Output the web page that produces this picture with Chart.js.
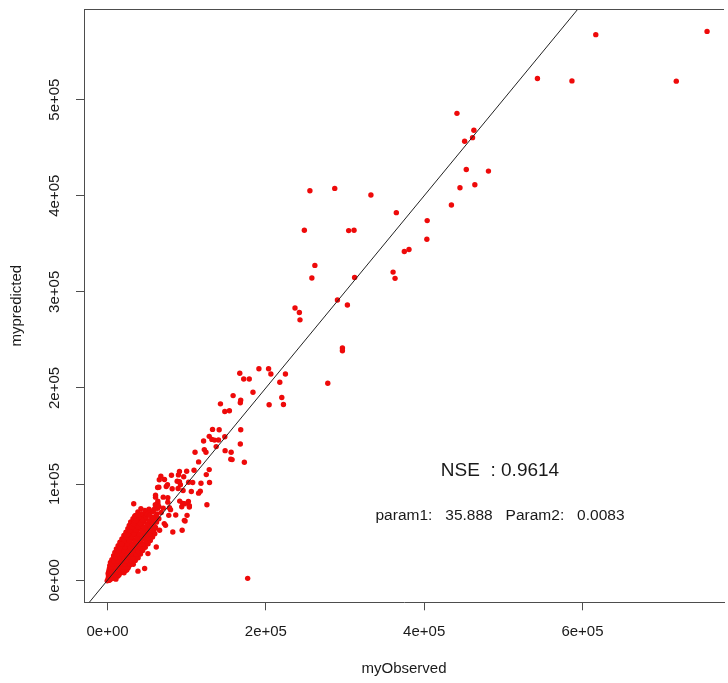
<!DOCTYPE html>
<html>
<head>
<meta charset="utf-8">
<script src="https://cdn.jsdelivr.net/npm/chart.js@4.4.1/dist/chart.umd.min.js"></script>
<style>
  html, body { margin: 0; padding: 0; background: #fff; overflow: hidden; }
  canvas { display: block; }
</style>
</head>
<body>
<canvas id="chart" width="728" height="683"></canvas>
<script>
// axis setup (R base plot look)
const xTicks = [0, 200000, 400000, 600000];
const xTickLabels = ["0e+00", "2e+05", "4e+05", "6e+05"];
const yTicks = [0, 100000, 200000, 300000, 400000, 500000];
const yTickLabels = ["0e+00", "1e+05", "2e+05", "3e+05", "4e+05", "5e+05"];
const xRange = [-29800, 778800];
const yRange = [-23100, 594300];
const refLine = [-60000, 800000];

const xTitle = "myObserved";
const yTitle = "mypredicted";
const nseLabel = "NSE  : 0.9614";
const paramLabel = "param1:   35.888   Param2:   0.0083";
const noteX = 495800;
const nseY = 113400;
const paramY = 67000;

const coreCluster = [
  [-500, -800], [1500, -300],
  [500, 1200], [3200, 400], [6800, 1800], [9500, 2600],
  [1100, 4200], [4600, 3600], [8700, 4800], [12800, 3900],
  [700, 6900], [4300, 6100], [8200, 7300], [11900, 6500], [15600, 7100],
  [1500, 9200], [5800, 9800], [10300, 8700], [14400, 9500], [18800, 8900], [22600, 9900],
  [2200, 11800], [6900, 12400], [11800, 11200], [17300, 12100], [21600, 11500], [25800, 12700],
  [2700, 14900], [7700, 15300], [13200, 14100], [18400, 15200], [23700, 14400], [28200, 15600],
  [3600, 18300], [9100, 17600], [14700, 18800], [20200, 17900], [25300, 18600], [30700, 17800],
  [5400, 21200], [11200, 22100], [16400, 21000], [22300, 22400], [27600, 21300], [33200, 22000],
  [7600, 25400], [13100, 24600], [19200, 25800], [24800, 24300], [31200, 25500], [36800, 24700],
  [9200, 28900], [15200, 28100], [21100, 29300], [27300, 28400], [33100, 29000], [39600, 28200],
  [11100, 32400], [17200, 31600], [23300, 32800], [29100, 31500], [35300, 32300], [42200, 31400],
  [13300, 35900], [19100, 35100], [25700, 36200], [32200, 35300], [38600, 36000], [45800, 35000],
  [15600, 39400], [22200, 38600], [28400, 39800], [35200, 38700], [42100, 39300], [49200, 38500],
  [18100, 42900], [24700, 42100], [31300, 43200], [38100, 42300], [45200, 43100], [52300, 42200],
  [20600, 46400], [27100, 45700], [34200, 46800], [41200, 45800], [48100, 46500], [54800, 45600],
  [23200, 49900], [30200, 49100], [37100, 50200], [44200, 49300], [51100, 50000], [57300, 49200],
  [25600, 53400], [32700, 52600], [40200, 53700], [47100, 52800], [54200, 53300], [58800, 52500],
  [27300, 56900], [35200, 56100], [43100, 57200], [50700, 56300], [57800, 56800],
  [29200, 60400], [37600, 59700], [46200, 60800], [54100, 59800], [61800, 60300],
  [32100, 63900], [40300, 63100], [48200, 64200], [56300, 63400], [64800, 63900],
  [35200, 67400], [44100, 66800], [52300, 67700], [61200, 66900],
  [38300, 70900], [48200, 70200], [57100, 71300], [67800, 70400],
  [42100, 74400], [52300, 73800], [63200, 74700]
];

const coreFill = [
  [2000, 2800], [5800, 2200], [10500, 1000],
  [2800, 5300], [6600, 5000], [10600, 5700], [14300, 5200],
  [3500, 7900], [7100, 8300], [12500, 8000], [16800, 8200], [20800, 7600],
  [4300, 10600], [9000, 10800], [14600, 10400], [19500, 10900], [24200, 10500],
  [5000, 13300], [10100, 13600], [15700, 13000], [20900, 13700], [26300, 13900],
  [6200, 16700], [11500, 16400], [16800, 17000], [22400, 16600], [27800, 17000], [32500, 16400],
  [8000, 19900], [13400, 20200], [18800, 19700], [24200, 20100], [29900, 19800], [35000, 20300],
  [10100, 23400], [15500, 23600], [21100, 23100], [27100, 23800], [32600, 23500], [38600, 23200],
  [12100, 26900], [18200, 27200], [24100, 26700], [30200, 27000], [36300, 26800], [41600, 27100],
  [14100, 30500], [20300, 30700], [26400, 30300], [32300, 30900], [38800, 30400], [44400, 30800],
  [16300, 33900], [22400, 34300], [28600, 33800], [35100, 34100], [41600, 33700], [47600, 34200],
  [18600, 37400], [25100, 37800], [31600, 37300], [38400, 37600], [45400, 37200], [51200, 37700],
  [21100, 40900], [27700, 41300], [34600, 40800], [41300, 41100], [48400, 40700], [54000, 41200],
  [23600, 44500], [30400, 44800], [37500, 44200], [44600, 44700], [51600, 44300], [56800, 44800],
  [26200, 48000], [33300, 48300], [40500, 47700], [47600, 48200], [54400, 47800], [59600, 48300],
  [28500, 51500], [35700, 51800], [43300, 51200], [50600, 51700], [57600, 51300],
  [30600, 55000], [38600, 55300], [46600, 54800], [54300, 55200], [60600, 54700],
  [33000, 58600], [41400, 58900], [49800, 58300], [58000, 58800],
  [35900, 62100], [44200, 62400], [52600, 61900], [60700, 62300],
  [39400, 65600], [48400, 65900], [57000, 65400],
  [42600, 69100], [52600, 69400], [62400, 68900],
  [47200, 72600], [58200, 72900]
];

const lowerScatter = [
  [33000, 79500], [17600, 37300], [23900, 46600], [34300, 66600], [38400, 67700],
  [50200, 68400], [53100, 67400], [59800, 74600], [63500, 80100], [60600, 86300],
  [70300, 74900], [71600, 58800], [77300, 67400], [79500, 73300], [86100, 67700],
  [82400, 50100], [94200, 51800], [97900, 61500], [61500, 34500], [51000, 27600],
  [46800, 12100], [38400, 9300], [94900, 79800], [103300, 77400], [100400, 67400],
  [97000, 62200], [73200, 57000], [65700, 51800], [64800, 96700], [74100, 97400],
  [92000, 99200], [177000, 1800]
];

const midScatter = [
  [167000, 215200], [191200, 220000], [203400, 220000], [206300, 214500], [172000, 209300],
  [179000, 209300], [224700, 214500], [217600, 205900], [278200, 204900], [183700, 195500],
  [158600, 192000], [168200, 187300], [167700, 184500], [220100, 190000], [222200, 182700],
  [204100, 182400], [142600, 183400], [148100, 175400], [153900, 176200], [132600, 156800],
  [141000, 156500], [168200, 156500], [128400, 149600], [131800, 146400], [135100, 145700],
  [121300, 144800], [148100, 149200], [140100, 145800], [122200, 135800], [124300, 133000],
  [167700, 141700], [110500, 133000], [137200, 138900], [148500, 134700], [156100, 133000],
  [157300, 125400], [155700, 125700], [172800, 122600], [115000, 123000], [109200, 114300],
  [128400, 115000], [124700, 109800], [128800, 101600], [99900, 113300], [118000, 100800],
  [90800, 113000], [89500, 109500], [80700, 109100], [67300, 108100], [71900, 104700],
  [65300, 104400], [96200, 107500], [87900, 102900], [90800, 102300], [75700, 99200],
  [81600, 95000], [102400, 101900], [107500, 101600], [105800, 92200], [95400, 93300],
  [117100, 92500], [115000, 90500], [63200, 96400], [89100, 95300], [60600, 88400],
  [70300, 86300], [76100, 85700], [63500, 82200], [60300, 78400], [64800, 76700],
  [76100, 81100], [78200, 75300], [91100, 82200], [102100, 81900], [103300, 76000],
  [93700, 76400], [125500, 78400], [97400, 79500]
];

const upperScatter = [
  [255600, 405200], [287000, 407600], [332700, 400700], [248600, 364100], [304600, 363700],
  [311400, 364100], [374900, 342000], [380800, 344000], [261900, 327500], [258100, 314300],
  [312100, 315000], [360700, 320500], [363200, 314000], [290400, 291500], [303000, 286300],
  [236800, 283200], [242300, 278500], [243100, 270800], [296700, 241500], [296700, 238700],
  [364800, 382400], [403800, 374100], [403400, 354700], [434400, 390400], [445200, 408300],
  [464000, 411400], [453200, 427300], [481200, 425600], [441400, 485700], [462800, 468100],
  [451100, 456700], [461100, 460400], [543100, 522000], [586700, 519500], [616800, 567600],
  [718500, 519200], [757400, 571000]
];

const frameColor = "#4d4d4d";
const textColor = "#1a1a1a";
const pointColor = "#ee0a0a";
const fontFamily = '"Liberation Sans", Arial, sans-serif';

Chart.defaults.font.family = fontFamily;

const toPoints = (pairs) => pairs.map(([x, y]) => ({ x, y }));
const allPoints = [...coreCluster, ...coreFill, ...lowerScatter, ...midScatter, ...upperScatter];

const extras = {
  id: "extras",
  afterDraw(chart) {
    const { ctx, chartArea, scales } = chart;
    ctx.save();
    ctx.strokeStyle = frameColor;
    ctx.lineWidth = 1;
    ctx.beginPath();
    ctx.moveTo(chartArea.left, Math.round(chartArea.top) + 0.5);
    ctx.lineTo(chartArea.right, Math.round(chartArea.top) + 0.5);
    ctx.stroke();

    const ax = scales.x.getPixelForValue(noteX);
    ctx.fillStyle = textColor;
    ctx.textAlign = "center";
    ctx.textBaseline = "middle";
    ctx.font = "19px " + fontFamily;
    ctx.fillText(nseLabel, ax, scales.y.getPixelForValue(nseY));
    ctx.font = "15.5px " + fontFamily;
    ctx.fillText(paramLabel, ax, scales.y.getPixelForValue(paramY));
    ctx.restore();
  },
};

new Chart(document.getElementById("chart"), {
  type: "scatter",
  data: {
    datasets: [
      {
        type: "line",
        data: refLine.map((v) => ({ x: v, y: v })),
        borderColor: "#222",
        borderWidth: 1,
        pointRadius: 0,
        fill: false,
        order: 1,
      },
      {
        data: toPoints(allPoints),
        backgroundColor: pointColor,
        borderWidth: 0,
        pointRadius: 2.7,
        order: 2,
      },
    ],
  },
  options: {
    responsive: false,
    animation: false,
    events: [],
    layout: { padding: { top: 6.5, right: 0, left: 0, bottom: 0 } },
    plugins: { legend: { display: false }, tooltip: { enabled: false } },
    scales: {
      x: {
        type: "linear",
        min: xRange[0],
        max: xRange[1],
        afterBuildTicks: (s) => { s.ticks = xTicks.map((v) => ({ value: v })); },
        afterFit: (s) => { s.height = 80.7; },
        grid: { drawOnChartArea: false, drawTicks: true, tickLength: 8, color: frameColor },
        border: { display: true, color: frameColor, width: 1 },
        ticks: {
          autoSkip: false,
          maxRotation: 0,
          padding: 13,
          color: textColor,
          font: { size: 15 },
          callback: (v) => xTickLabels[xTicks.indexOf(v)],
        },
        title: { display: true, text: xTitle, color: textColor, font: { size: 15 }, padding: { bottom: 5 } },
      },
      y: {
        type: "linear",
        min: yRange[0],
        max: yRange[1],
        afterBuildTicks: (s) => { s.ticks = yTicks.map((v) => ({ value: v })); },
        afterFit: (s) => { s.width = 84; },
        grid: { drawOnChartArea: false, drawTicks: true, tickLength: 8, color: frameColor },
        border: { display: true, color: frameColor, width: 1 },
        ticks: {
          autoSkip: false,
          minRotation: 90,
          maxRotation: 90,
          crossAlign: "center",
          padding: 0,
          color: textColor,
          font: { size: 15 },
          callback: (v) => yTickLabels[yTicks.indexOf(v)],
        },
        title: { display: true, text: yTitle, color: textColor, font: { size: 15 }, padding: { top: 8 } },
      },
    },
  },
  plugins: [extras],
});
</script>
</body>
</html>
